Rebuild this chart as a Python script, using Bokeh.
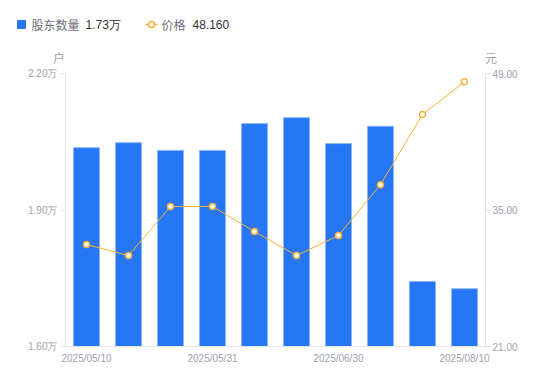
from bokeh.plotting import figure
from bokeh.layouts import column
from bokeh.models import (Range1d, LinearAxis, FixedTicker, CustomJSTickFormatter,
                          NumeralTickFormatter, ColumnDataSource)
from bokeh.core.properties import value
from bokeh.embed import file_html
from bokeh.resources import INLINE

# ---- data ----
dates = ["2025/05/10", "2025/05/16", "2025/05/20", "2025/05/31", "2025/06/10",
         "2025/06/20", "2025/06/30", "2025/07/10", "2025/07/31", "2025/08/10"]
holders = [20370, 20480, 20310, 20310, 20900, 21030, 20460, 20840, 17430, 17270]
prices = [31.46, 30.33, 35.36, 35.36, 32.79, 30.33, 32.38, 37.60, 44.80, 48.16]
left_ticks = [16000, 19000, 22000]
right_ticks = [21, 35, 49]
shown_labels = [0, 3, 6, 9]
series_names = ["股东数量", "价格"]
units = ["户", "元"]

BAR = "#2776f5"
ORANGE = "#f8b03a"
TICK = "#9ea1ad"
AXIS = "#e3e5ea"
LEG = "#6e7079"
CJK = "Noto Sans CJK SC"
LAT = "Liberation Sans"

W, H = 550, 381
HEAD = 66

# ---------- header (legend + unit labels) ----------
hd = figure(width=W, height=HEAD, output_backend="svg", toolbar_location=None,
            x_range=Range1d(0, W), y_range=Range1d(HEAD, 0),
            x_axis_location=None, y_axis_location=None,
            min_border_left=0, min_border_right=0, min_border_top=0, min_border_bottom=0)
hd.frame_align = False
hd.outline_line_color = None
hd.xgrid.visible = False
hd.ygrid.visible = False

hd.scatter(x=[21], y=[24], marker="square", size=8, fill_color=BAR, line_color=BAR)
hd.text(x=[31], y=[24], text=[series_names[0]], text_baseline="middle", text_align="left",
        text_font=value(CJK), text_font_size="12px", text_color=LEG)
hd.text(x=[85], y=[24], text=["%.2f万" % (holders[-1] / 10000)], text_baseline="middle",
        text_align="left", text_font=value(LAT), text_font_size="12px", text_color="#333333")
hd.line(x=[145, 157], y=[24, 24], line_color=ORANGE, line_width=1.5)
hd.scatter(x=[151], y=[24], size=6, fill_color="white", line_color=ORANGE, line_width=1.5)
hd.text(x=[161], y=[24], text=[series_names[1]], text_baseline="middle", text_align="left",
        text_font=value(CJK), text_font_size="12px", text_color=LEG)
hd.text(x=[192], y=[24], text=["%.3f" % prices[-1]], text_baseline="middle",
        text_align="left", text_font=value(LAT), text_font_size="12px", text_color="#333333")
hd.text(x=[58.5, 490.5], y=[57, 57], text=units, text_baseline="middle", text_align="center",
        text_font=value(CJK), text_font_size="12px", text_color=TICK)

# ---------- main chart ----------
n = len(dates)
xs = [i + 0.5 for i in range(n)]
src = ColumnDataSource(dict(x=xs, h=holders, p=prices))

p = figure(width=W, height=H - HEAD, output_backend="svg", toolbar_location=None,
           x_range=Range1d(0, n), y_range=Range1d(16000, 22000),
           min_border_left=65, min_border_right=65, min_border_top=7, min_border_bottom=35)
p.frame_align = False
p.extra_y_ranges = {"price": Range1d(21, 49)}
p.outline_line_color = None
p.xgrid.visible = False
p.ygrid.visible = False

p.vbar(x="x", top="h", bottom=16000, width=0.62, source=src,
       fill_color=BAR, line_color="#8db8fa", line_width=1)
p.line(x="x", y="p", source=src, y_range_name="price", line_color=ORANGE, line_width=1)
p.scatter(x="x", y="p", source=src, y_range_name="price", size=6,
          fill_color="white", line_color=ORANGE, line_width=1.5)

# left axis
ya = p.yaxis[0]
ya.ticker = FixedTicker(ticks=left_ticks)
ya.formatter = CustomJSTickFormatter(code="return (tick/10000).toFixed(2) + '万';")
ya.axis_line_color = AXIS
ya.major_tick_line_color = AXIS
ya.major_tick_out = 5
ya.major_tick_in = 0
ya.minor_tick_line_color = None
ya.major_label_text_color = TICK
ya.major_label_text_font_size = "10px"
ya.major_label_text_font = LAT
ya.major_label_standoff = 3

# right axis
ra = LinearAxis(y_range_name="price", ticker=FixedTicker(ticks=right_ticks),
                formatter=NumeralTickFormatter(format="0.00"))
ra.axis_line_color = AXIS
ra.major_tick_line_color = AXIS
ra.major_tick_out = 5
ra.major_tick_in = 0
ra.minor_tick_line_color = None
ra.major_label_text_color = TICK
ra.major_label_text_font_size = "10px"
ra.major_label_text_font = LAT
ra.major_label_standoff = 2
p.add_layout(ra, "right")

# x axis
xa = p.xaxis[0]
xa.ticker = FixedTicker(ticks=[xs[i] for i in shown_labels])
xa.major_label_overrides = {xs[i]: dates[i] for i in shown_labels}
xa.axis_line_color = AXIS
xa.major_tick_line_color = None
xa.major_tick_out = 0
xa.minor_tick_line_color = None
xa.major_label_text_color = TICK
xa.major_label_text_font_size = "10px"
xa.major_label_text_font = LAT
xa.major_label_standoff = 6

layout = column(hd, p, spacing=0)
open("out.html", "w").write(file_html(layout, INLINE))
